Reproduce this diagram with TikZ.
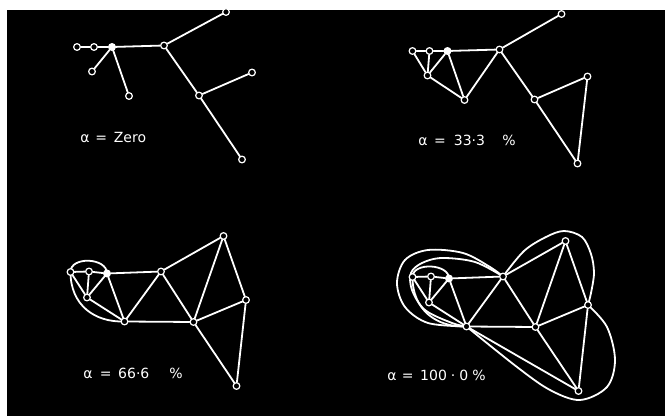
\documentclass[tikz,border=0pt]{standalone}
\usepackage{fontspec}
\setmainfont{DejaVu Sans}
\pgfdeclarelayer{backdrop}
\pgfdeclarelayer{background}
\pgfsetlayers{backdrop,background,main}
\begin{document}
\begin{tikzpicture}[x=0.75pt,y=-0.75pt,
  vtx/.style={circle,draw=white,fill=black,line width=0.9pt,inner sep=0pt,minimum size=5pt},
  hub/.style={vtx,fill=white},
  edge/.style={draw=white,line width=1.35pt,line cap=round,line join=round},
  loopline/.style={edge,smooth,tension=0.55},
  lbl/.style={text=white,anchor=west,inner sep=0pt,font=\fontsize{10.5}{12}\selectfont}]
\useasboundingbox (0,0) rectangle (665,416);
\begin{pgfonlayer}{backdrop}
\fill[white] (0,0) rectangle (665,416);
\fill[black] (7,10) rectangle (665,416);
\end{pgfonlayer}

% ---------- Panel A : alpha = zero ----------
\begin{scope}
\node[vtx] (a1) at (77,47) {};
\node[vtx] (a2) at (94,47) {};
\node[hub] (a3) at (112,47) {};
\node[vtx] (a4) at (164,45.5) {};
\node[vtx] (a5) at (226,12) {};
\node[vtx] (a6) at (92,71.5) {};
\node[vtx] (a7) at (129,96) {};
\node[vtx] (a8) at (199,95.5) {};
\node[vtx] (a9) at (252,72.5) {};
\node[vtx] (a10) at (242,159.5) {};
\begin{pgfonlayer}{background}
\draw[edge] (a1)--(a2) (a2)--(a3) (a3)--(a4) (a3)--(a6) (a3)--(a7)
  (a4)--(a5) (a4)--(a8) (a8)--(a9) (a8)--(a10);
\end{pgfonlayer}
\node[lbl] (la) at (80,138) {α\hspace{4.5pt}=\hspace{5pt}Zero};
\end{scope}

% ---------- Panel B : alpha = 33.3 % ----------
\begin{scope}[shift={(335.5,4)}]
\node[vtx] (b1) at (77,47) {};
\node[vtx] (b2) at (94,47) {};
\node[hub] (b3) at (112,47) {};
\node[vtx] (b4) at (164,45.5) {};
\node[vtx] (b5) at (226,10) {};
\node[vtx] (b6) at (92,71.5) {};
\node[vtx] (b7) at (129,96) {};
\node[vtx] (b8) at (199,95.5) {};
\node[vtx] (b9) at (252,72.5) {};
\node[vtx] (b10) at (242,159.5) {};
\begin{pgfonlayer}{background}
\draw[edge] (b1)--(b2) (b2)--(b3) (b3)--(b4) (b1)--(b6) (b2)--(b6) (b3)--(b6)
  (b6)--(b7) (b3)--(b7) (b7)--(b4) (b4)--(b5) (b4)--(b8) (b8)--(b9)
  (b9)--(b10) (b8)--(b10);
\end{pgfonlayer}
\end{scope}
\node[lbl] (lb) at (418,140) {α\hspace{5pt}=\hspace{6pt}33·3\hspace{13pt}\%};

% ---------- Panel C : alpha = 66.6 % ----------
\begin{scope}
\node[vtx] (c1) at (70.5,272) {};
\node[vtx] (c2) at (89,271.5) {};
\node[hub] (c3) at (107,273.5) {};
\node[vtx] (c4) at (161,271.5) {};
\node[vtx] (c5) at (223.5,236) {};
\node[vtx] (c6) at (87,297.5) {};
\node[vtx] (c7) at (124.5,321.5) {};
\node[vtx] (c8) at (193.5,322) {};
\node[vtx] (c9) at (246,300) {};
\node[vtx] (c10) at (236.5,386) {};
\begin{pgfonlayer}{background}
\draw[edge] (c1)--(c2) (c2)--(c3) (c3)--(c4) (c1)--(c6) (c2)--(c6) (c3)--(c6)
  (c6)--(c7) (c3)--(c7) (c7)--(c4) (c4)--(c5) (c4)--(c8) (c8)--(c9)
  (c9)--(c10) (c8)--(c10) (c7)--(c8) (c5)--(c8) (c5)--(c9);
\draw[edge] (c1.center) .. controls +(0,-16) and +(0,-16) .. (c3.center);
\draw[edge] (c1.center) .. controls +(0,33) and +(-30,1) .. (c7.center);
\end{pgfonlayer}
\end{scope}
\node[lbl] (lc) at (83,373) {α\hspace{5.5pt}=\hspace{5pt}66·6\hspace{15pt}\%};

% ---------- Panel D : alpha = 100.0 % ----------
\begin{scope}[shift={(342,5)}]
\node[vtx] (d1) at (70.5,272) {};
\node[vtx] (d2) at (89,271.5) {};
\node[hub] (d3) at (107,273.5) {};
\node[vtx] (d4) at (161,271.5) {};
\node[vtx] (d5) at (223.5,236) {};
\node[vtx] (d6) at (87,297.5) {};
\node[vtx] (d7) at (124.5,321.5) {};
\node[vtx] (d8) at (193.5,322) {};
\node[vtx] (d9) at (246,300) {};
\node[vtx] (d10) at (236.5,386) {};
\begin{pgfonlayer}{background}
\draw[edge] (d1)--(d2) (d2)--(d3) (d3)--(d4) (d1)--(d6) (d2)--(d6) (d3)--(d6)
  (d6)--(d7) (d3)--(d7) (d7)--(d4) (d4)--(d5) (d4)--(d8) (d8)--(d9)
  (d9)--(d10) (d8)--(d10) (d7)--(d8) (d5)--(d8) (d5)--(d9) (d7)--(d10);
\draw[edge] (d1.center) .. controls +(0,-15) and +(0,-15) .. (d3.center);
\draw[edge] (d1.center) .. controls +(0,33) and +(-30,1) .. (d7.center);
% middle loop
\draw[loopline] plot coordinates {(d7.center) (110,318) (83,305) (70,285) (69,268)
  (80,258) (100,253) (133,257) (d4.center)};
% outer loop
\draw[loopline] plot coordinates {(d7.center) (86,318) (63,302) (55,278) (63,255)
  (86,245) (121,248) (148,262) (d4.center)};
% right loop
\draw[loopline] plot coordinates {(d4.center) (182,246) (204,232) (222,226) (240,232)
  (249,249) (252,268) (249,288) (d9.center)};
% bottom loop
\draw[loopline] plot coordinates {(d7.center) (175,362) (208,385) (238,395) (265,382)
  (273,355) (265,322) (d9.center)};
\end{pgfonlayer}
\end{scope}
\node[lbl] (ld) at (387,375) {α\hspace{4pt}=\hspace{5pt}100\hspace{3pt}·\hspace{3pt}0\hspace{3pt}\%};
\end{tikzpicture}
\end{document}
